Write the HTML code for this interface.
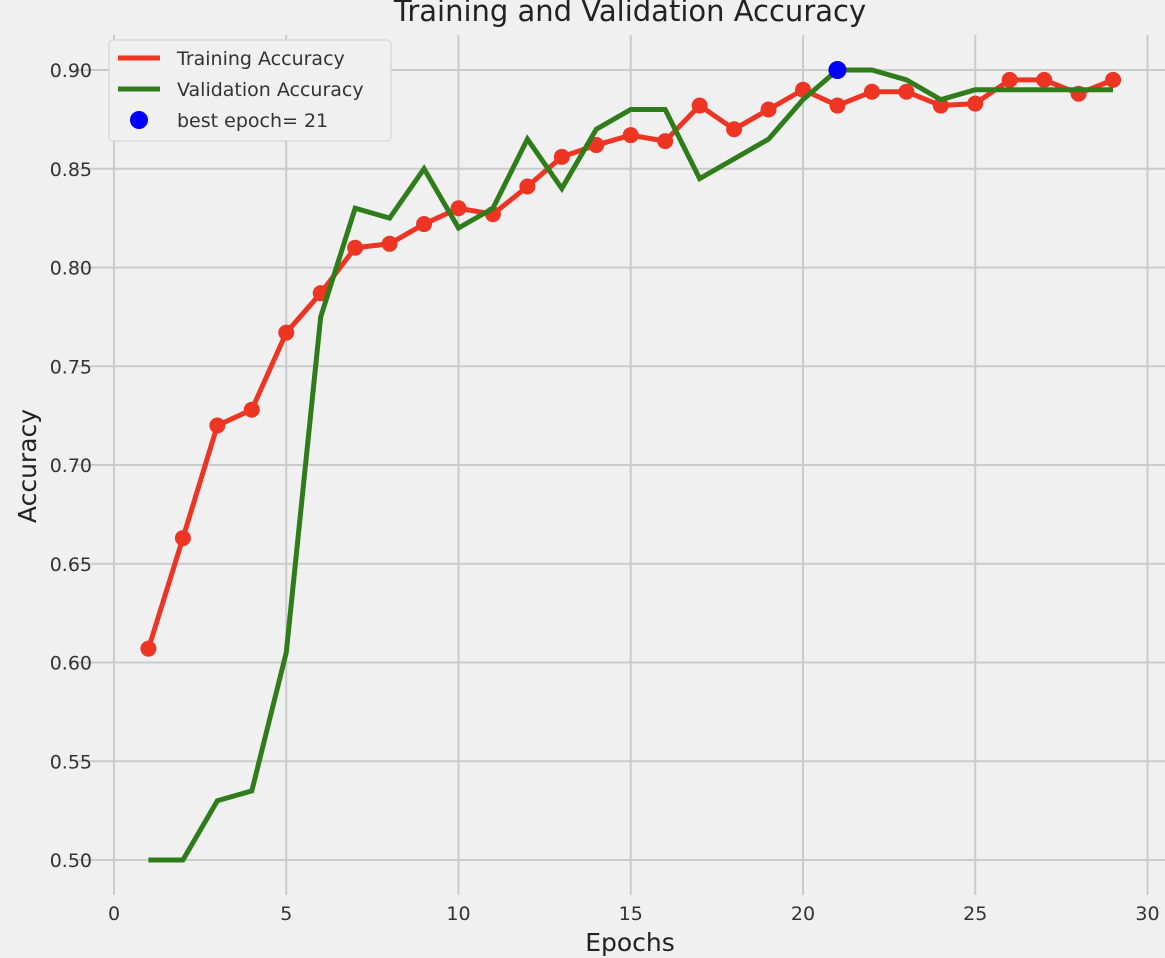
<!DOCTYPE html>
<html><head><meta charset="utf-8"><style>
html,body{margin:0;padding:0;background:#f0f0f0;}
svg{display:block;font-family:"DejaVu Sans","Liberation Sans",sans-serif;}
</style></head><body>
<svg id="chart" width="1165" height="958">
<rect x="0" y="0" width="1165" height="958" fill="#f0f0f0"/>
<g id="grid"></g>
<g id="ticks"></g>
<g id="series"></g>
<text x="630" y="21" text-anchor="middle" font-size="29" fill="#222">Training and Validation Accuracy</text>
<text x="630" y="951" text-anchor="middle" font-size="25" fill="#222">Epochs</text>
<text x="36" y="466" text-anchor="middle" font-size="25" fill="#222" transform="rotate(-90 36 466)">Accuracy</text>
<g>
<rect x="109" y="40" width="282" height="101" rx="4" fill="#f0f0f0" stroke="#d0d0d0"/>
<line x1="118" y1="58" x2="160" y2="58" stroke="#ee3524" stroke-width="5"/>
<text x="177" y="65" font-size="19" fill="#333">Training Accuracy</text>
<line x1="118" y1="89" x2="160" y2="89" stroke="#2e7d1a" stroke-width="5"/>
<text x="177" y="96" font-size="19" fill="#333">Validation Accuracy</text>
<circle cx="139" cy="120" r="9" fill="#0000ff"/>
<text x="177" y="127" font-size="19" fill="#333">best epoch= 21</text>
</g>
</svg>
<script>
const epochs=[1,2,3,4,5,6,7,8,9,10,11,12,13,14,15,16,17,18,19,20,21,22,23,24,25,26,27,28,29];
const trainAcc=[0.607,0.663,0.720,0.728,0.767,0.787,0.810,0.812,0.822,0.830,0.827,0.841,0.856,0.862,0.867,0.864,0.882,0.870,0.880,0.890,0.882,0.889,0.889,0.882,0.883,0.895,0.895,0.888,0.895];
const valAcc=[0.50,0.50,0.53,0.535,0.605,0.775,0.83,0.825,0.85,0.82,0.83,0.865,0.84,0.87,0.88,0.88,0.845,0.855,0.865,0.885,0.90,0.90,0.895,0.885,0.89,0.89,0.89,0.89,0.89];
const bestEpoch=21;
const bestVal=0.90;
const xTicks=[0,5,10,15,20,25,30];
const yTicks=[0.50,0.55,0.60,0.65,0.70,0.75,0.80,0.85,0.90];
const NS="http://www.w3.org/2000/svg";
function xs(v){return 114+v*34.45;}
function ys(v){return 860-(v-0.5)*1975;}
function mk(tag,attrs,parent){const e=document.createElementNS(NS,tag);for(const k in attrs)e.setAttribute(k,attrs[k]);parent.appendChild(e);return e;}
const grid=document.getElementById('grid'),ticks=document.getElementById('ticks'),ser=document.getElementById('series');
yTicks.forEach(t=>{
 const l=mk('line',{x1:75,x2:1165,y1:ys(t),y2:ys(t),stroke:'#cbcbcb','stroke-width':2},grid);
 
 
 const tx=mk('text',{x:92,y:ys(t)+7,'text-anchor':'end','font-size':19,fill:'#333'},ticks);
 tx.textContent=t.toFixed(2);
 
 
});
xTicks.forEach(t=>{
 const l=mk('line',{x1:xs(t),x2:xs(t),y1:35,y2:895,stroke:'#cbcbcb','stroke-width':2},grid);
 
 
 const tx=mk('text',{x:xs(t),y:920,'text-anchor':'middle','font-size':19,fill:'#333'},ticks);
 tx.textContent=t;
 
 
});
const tl=mk('polyline',{points:epochs.map((e,i)=>xs(e)+','+ys(trainAcc[i])).join(' '),fill:'none',stroke:'#ee3524','stroke-width':5,'stroke-linejoin':'round'},ser);


epochs.forEach((e,i)=>{
 const c=mk('circle',{cx:xs(e),cy:ys(trainAcc[i]),r:8,fill:'#ee3524'},ser);
 
 
});
const vl=mk('polyline',{points:epochs.map((e,i)=>xs(e)+','+ys(valAcc[i])).join(' '),fill:'none',stroke:'#2e7d1a','stroke-width':5,'stroke-linejoin':'miter'},ser);


const b=mk('circle',{cx:xs(bestEpoch),cy:ys(bestVal),r:9,fill:'#0000ff'},ser);


</script>
</body></html>
